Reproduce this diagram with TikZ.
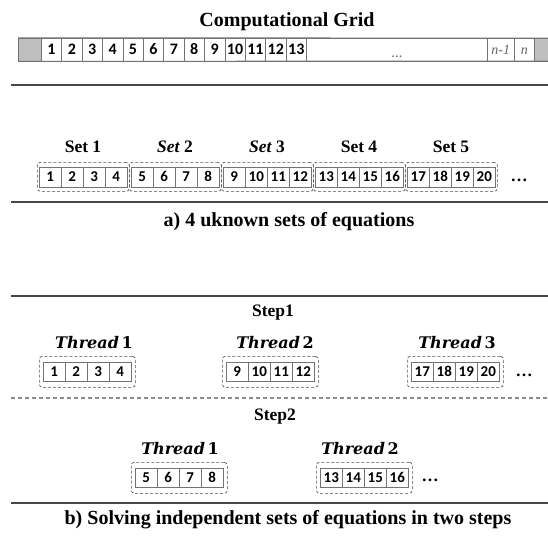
\documentclass[tikz,border=0pt]{standalone}
\usepackage{fontspec}
\setmainfont{Liberation Serif}
\newfontfamily\numfont{Carlito}
\newfontfamily\thrfont{DejaVu Serif}
\begin{document}
\begin{tikzpicture}[x=1pt,y=-1pt,
  cell/.style={draw=black!55,line width=0.5pt,minimum width=22pt,minimum height=20pt,
    inner sep=0pt,anchor=west,text height=9.6pt,text depth=0pt,
    font=\numfont\bfseries\fontsize{15}{15}\selectfont},
  gridcell/.style={cell,minimum width=20.4pt,minimum height=23pt,text height=10.2pt,
    font=\numfont\bfseries\fontsize{16}{16}\selectfont},
  setbox/.style={draw=black!70,densely dashed,rounded corners=3pt,line width=0.6pt,
    inner sep=0pt,anchor=north west},
  setlabel/.style={font=\bfseries\fontsize{17.5}{18}\selectfont},
  thrlabel/.style={font=\thrfont\bfseries\fontsize{16}{16}\selectfont},
  captxt/.style={font=\bfseries\fontsize{20}{20}\selectfont},
  sepline/.style={line width=2.2pt,draw=black!72},
  dotstxt/.style={font=\bfseries\fontsize{17}{17}\selectfont},
]
  \useasboundingbox (0,0) rectangle (548,536);
  % computational grid
  \node[setlabel,font=\bfseries\fontsize{20}{20}\selectfont] (title) at (287,22) {Computational Grid};
  \node[gridcell,fill=black!25,minimum width=23pt] (gl) at (18,49.5) {};
  \foreach \i in {1,...,13} {
      \node[gridcell] (g\i) at ({41+(\i-1)*20.4},49.5) {\i};
  }
  \node[gridcell,minimum width=180.8pt,font=\bfseries\fontsize{11}{11}\selectfont,text=black!60] (gdots) at (306.2,49.5) {\raisebox{-3pt}{\ldots}};
  \node[gridcell,minimum width=27pt,font=\itshape\fontsize{14}{14}\selectfont,text=black!60] (gn1) at (487,49.5) {n-1};
  \node[gridcell,minimum width=20pt,font=\itshape\fontsize{14}{14}\selectfont,text=black!60] (gn) at (514,49.5) {n};
  \node[gridcell,fill=black!25,minimum width=16pt] (gr) at (534,49.5) {};
  \draw[black!55,line width=0.8pt] (gl.north west) -- (548,38) (gl.south west) -- (548,61);
  \draw[sepline] (11,85) -- (548,85);

  % a) sets
  \foreach \s/\lab in {0/{Set 1},1/{\textit{Set} 2},2/{\textit{Set} 3},3/{Set 4},4/{Set 5}} {
      \node[setbox,minimum width=92pt,minimum height=29pt] (box\s) at ({37+92*\s},162) {};
      \node[setlabel] (set\s) at ({83+92*\s},147) {\lab};
      \foreach \c in {1,...,4} {
          \pgfmathtruncatemacro\n{4*\s+\c}
          \node[cell] (s\n) at ({39+92*\s+22*(\c-1)},177) {\n};
      }
  }
  \node[dotstxt] (setdots) at (519,180) {\ldots};
  \draw[sepline] (11,202) -- (548,202);
  \node[captxt] (capa) at (289,222) {a) 4 uknown sets of equations};

  % b) two steps
  \draw[sepline] (11,296) -- (548,296);
  \node[setlabel] (step1) at (273,313) {Step1};
  \node[setlabel] (step2) at (275,417) {Step2};
  \foreach \bx/\by/\first/\nm/\lx in {39/356/1/1/94, 222/356/9/2/275, 407/356/17/3/457, 131/462/5/1/180, 316/462/13/2/360} {
      \node[setbox,minimum width=96pt,minimum height=31pt] (tb\first) at (\bx,\by) {};
      \node[thrlabel] (thr\first) at (\lx,\by-13) {\textit{Thread}\,\nm};
      \foreach \c in {1,...,4} {
          \pgfmathtruncatemacro\n{\first+\c-1}
          \node[cell,minimum height=19pt] (t\n) at ({\bx+4+22*(\c-1)},\by+16) {\n};
      }
  }
  \node[dotstxt] (dots1) at (524,375) {\ldots};
  \draw[black!45,line width=1.3pt,dash pattern=on 4pt off 3pt] (11,398) -- (548,398);
  \node[dotstxt] (dots2) at (430,480) {\ldots};
  \draw[sepline] (11,503) -- (548,503);
  \node[captxt] (capb) at (288,520) {b) Solving independent sets of equations in two steps};
\end{tikzpicture}
\end{document}
